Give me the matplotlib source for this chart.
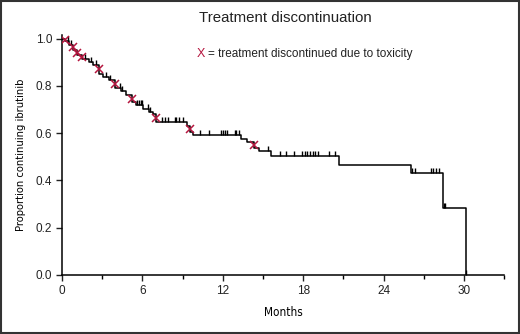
import numpy as np
import matplotlib
matplotlib.use("Agg")
import matplotlib.pyplot as plt
from matplotlib.patches import Rectangle
from matplotlib import font_manager as fm

# Step-curve data (months, proportion continuing)
step_times = [0, 0.2, 0.5, 0.85, 1.15, 1.5, 2.0, 2.35, 2.75, 3.1, 3.5, 3.95, 4.4, 4.8,
              5.2, 5.5, 6.05, 6.5, 6.8, 7.0, 9.3, 9.55, 9.8, 13.35, 13.8, 14.3, 14.7,
              15.6, 20.65, 26.0, 28.4, 30.1]
step_surv = [1.0, 0.99, 0.975, 0.95, 0.93, 0.915, 0.903, 0.89, 0.85, 0.838, 0.825, 0.79,
             0.777, 0.763, 0.73, 0.72, 0.70, 0.69, 0.68, 0.645, 0.63, 0.605, 0.59, 0.577,
             0.563, 0.537, 0.525, 0.505, 0.463, 0.433, 0.285, 0.0]

# Toxicity discontinuations (months)
tox_times = [0.2, 0.85, 1.15, 1.5, 2.75, 3.95, 5.2, 7.0, 9.55, 14.3]

# Censored observations (months)
censor_times = [0.45, 0.7, 1.7, 2.2, 2.55, 3.3, 3.6, 4.3, 4.5, 5.6, 5.75, 5.9, 6.0, 6.4,
                6.6, 7.5, 7.7, 7.9, 8.4, 8.5, 8.7, 9.0, 10.3, 11.0, 11.9, 12.0, 12.2,
                12.3, 12.9, 13.0, 13.2, 15.4, 16.3, 16.7, 17.3, 17.9, 18.1, 18.3, 18.5,
                18.7, 18.9, 19.1, 19.9, 20.4, 26.1, 26.3, 27.5, 27.7, 27.9, 28.1, 28.5,
                28.6, 30.1]

x_ticks = [0, 6, 12, 18, 24, 30]
y_ticks = [0.0, 0.2, 0.4, 0.6, 0.8, 1.0]

plt.rcParams['font.family'] = ['Liberation Sans', 'DejaVu Sans']

# find a condensed face if one exists
cond_prop = None
for f in fm.fontManager.ttflist:
    if 'Narrow' in f.name or 'Condensed' in f.name or f.stretch in ('condensed', 'semi-condensed'):
        if 'Bold' not in f.fname and 'Oblique' not in f.fname and 'Italic' not in f.fname:
            cond_prop = fm.FontProperties(fname=f.fname)
            break

fig = plt.figure(figsize=(5.2, 3.34), dpi=100)
ax = fig.add_axes([0.119, 0.177, 0.851, 0.718])

st = np.array(step_times)
ss = np.array(step_surv)
ax.step(st, ss, where='post', color='black', lw=1.1, zorder=2)

def level_at(t):
    i = np.searchsorted(st, t, side='right') - 1
    return ss[max(i, 0)]

cy = [level_at(t) for t in censor_times]
ax.plot(censor_times, cy, linestyle='none', marker=[(0, 0), (0, 1)],
        markersize=7, markeredgewidth=1.0, color='black', zorder=3)

tx, ty = [], []
for t in tox_times:
    i = np.searchsorted(st, t, side='right') - 1
    before = ss[i - 1] if i > 0 else ss[0]
    tx.append(t)
    ty.append((before + ss[i]) / 2)
ax.plot(tx, ty, linestyle='none', marker='x', markersize=6, markeredgewidth=1.1,
        color='#b5163f', zorder=4)

ax.set_xlim(0, 33)
ax.set_ylim(0, 1.015)
ax.set_xticks(x_ticks)
ax.set_xticks([3, 9, 15, 21, 27, 33], minor=True)
ax.set_yticks(y_ticks)
ax.set_yticklabels([f"{v:.1f}" for v in y_ticks])
ax.tick_params(axis='both', which='major', direction='out', length=4, width=1,
               labelsize=8.5, colors='#222222', pad=3)
ax.tick_params(axis='x', which='minor', direction='out', length=3, width=1)
for s in ['top', 'right']:
    ax.spines[s].set_visible(False)
for s in ['left', 'bottom']:
    ax.spines[s].set_linewidth(1.1)

if cond_prop is not None:
    xp = cond_prop.copy()
    xp.set_size(8.5)
    yp = cond_prop.copy()
    yp.set_size(8)
    ax.set_xlabel('Months', fontproperties=xp, labelpad=7)
    ax.set_ylabel('Proportion continuing ibrutinib', fontproperties=yp, labelpad=7)
else:
    ax.set_xlabel('Months', fontsize=8.5, labelpad=7)
    ax.set_ylabel('Proportion continuing ibrutinib', fontsize=8, labelpad=7)

fig.text(0.548, 0.945, 'Treatment discontinuation', ha='center', va='center',
         fontsize=10.8, color='#222222')
fig.text(0.379, 0.838, 'X', ha='left', va='center', fontsize=9, color='#b5163f')
fig.text(0.400, 0.838, '= treatment discontinued due to toxicity', ha='left',
         va='center', fontsize=8.5, color='#222222')

fig.patches.append(Rectangle((0.001, 0.002), 0.997, 0.995, transform=fig.transFigure,
                             fill=False, edgecolor='#333333', lw=1.5))

fig.savefig('out.png', dpi=100)
